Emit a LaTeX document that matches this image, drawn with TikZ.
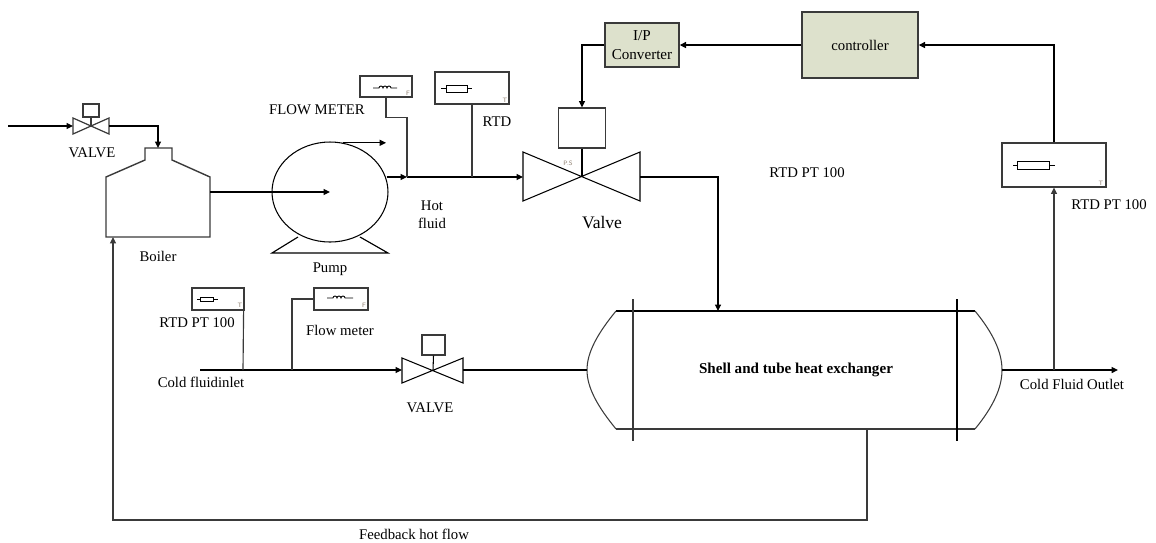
\documentclass[tikz,border=0pt]{standalone}
\usepackage{fontspec}
\setmainfont{Liberation Serif}
\usetikzlibrary{arrows.meta,shapes.geometric}
\definecolor{boxfill}{HTML}{DDE1CC}
\definecolor{ln}{HTML}{3A3A3A}
\definecolor{tinyc}{HTML}{8A7A6A}
\begin{document}
\begin{tikzpicture}[x=0.02cm,y=-0.02cm,
  pipe/.style={line width=0.65pt,draw=black},
  arr/.style={pipe,-{Triangle[length=3.6pt,width=3.4pt]}},
  equip/.style={line width=0.8pt,draw=ln},
  lbl/.style={inner sep=0pt,font=\fontsize{8.4}{10}\selectfont},
  tiny/.style={inner sep=0pt,font=\sffamily\fontsize{3.6}{4}\selectfont,text=tinyc},
  instbox/.style={draw=ln,line width=0.7pt,fill=white,inner sep=0pt},
  ctrlbox/.style={draw=ln,line width=0.8pt,fill=boxfill,inner sep=0pt,align=center,font=\fontsize{8.6}{10.5}\selectfont},
  actbox/.style={draw=ln,line width=0.7pt,inner sep=0pt}]
\useasboundingbox (0,0) rectangle (1156,542);

% ---------- top-left valve ----------
\coordinate (in1) at (8,126);
\coordinate (v1L) at (73,126);
\coordinate (v1R) at (109,126);
\coordinate (v1C) at (91,126);
\draw[equip,line width=0.7pt] (73,118) -- (109,134) -- (109,118) -- (73,134) -- cycle;
\node[actbox,minimum width=0.32cm,minimum height=0.26cm] (act1) at (91,110.5) {};
\draw[equip,line width=0.7pt] (act1.south) -- (v1C);
\node[lbl] (lv1) at (92,153) {VALVE};

% ---------- boiler ----------
\coordinate (boilerTop) at (158,148);
\coordinate (boilerR) at (210,192);
\coordinate (boilerBot) at (113,237);
\draw[equip] (145,160) -- (145,148) -- (172,148) -- (172,160) -- (210,177) -- (210,237) -- (106,237) -- (106,177) -- cycle;
\node[lbl] (lboiler) at (158,256) {Boiler};

\draw[arr] (in1) -- (v1L);
\draw[arr] (v1R) -| (boilerTop);

% ---------- pump ----------
\node[ellipse,draw=black,line width=0.6pt,minimum width=2.32cm,minimum height=2cm,inner sep=0pt] (pump) at (330,192) {};
\draw[pipe] (298,237) -- (272,253) -- (388,253) -- (360,237);
\node[lbl] (lpump) at (330,269) {Pump};
\draw[arr] (boilerR) -- (pump.center);
\coordinate (pt1) at (386,143);
\draw[arr] (pump.75) -- (pump.75 -| pt1);

% ---------- hot fluid line ----------
\coordinate (j1) at (407,177);
\coordinate (j2) at (472,177);
\coordinate (v2L) at (523,177);
\coordinate (v2R) at (640,177);
\coordinate (v2C) at (582,177);
\draw[arr] (pump.east |- j1) ++(-2,0) -- (j1);
\draw[arr] (j1) -- (v2L);
\node[lbl,align=center] (lhot) at (432,214.5) {Hot\\fluid};

% ---------- flow meter (top) ----------
\node[instbox,minimum width=1.04cm,minimum height=0.42cm] (fm1) at (386,86.5) {};
\draw[line width=0.5pt] (373,88) -- (379,88)
   arc[start angle=180,end angle=0,radius=0.04cm]
   arc[start angle=180,end angle=0,radius=0.04cm]
   arc[start angle=180,end angle=0,radius=0.04cm] -- (397,88);
\node[tiny] (fm1F) at (408,93) {F};
\draw[pipe,draw=ln] (fm1.south) -- ++(0,20) -| (j1);
\node[lbl] (lfm1) at (317,110) {FLOW METER};

% ---------- RTD (top) ----------
\node[instbox,minimum width=1.48cm,minimum height=0.64cm] (rtd1) at (472,88) {};
\draw[line width=0.5pt] (441,88) -- (446,88) (467,88) -- (472,88);
\draw[line width=0.5pt] (446,85) rectangle (467,92);
\node[tiny] (rtd1T) at (505,100) {T};
\draw[pipe,draw=ln] (rtd1.south) -- (j2);
\node[lbl] (lrtd1) at (497,122) {RTD};

% ---------- main control valve ----------
\draw[line width=0.6pt] (523,152) -- (640,201) -- (640,152) -- (523,201) -- cycle;
\node[actbox,minimum width=0.94cm,minimum height=0.8cm] (act2) at (582,128) {};
\draw[line width=0.6pt] (act2.south) -- (v2C);
\node[tiny] (ps) at (568,163) {P.S};
\node[lbl,font=\fontsize{10}{12}\selectfont] (lvalve2) at (602,223) {Valve};

% ---------- I/P converter and controller ----------
\node[ctrlbox,minimum width=1.48cm,minimum height=0.88cm] (ip) at (642,45) {I/P\\Converter};
\node[ctrlbox,minimum width=2.32cm,minimum height=1.32cm,font=\fontsize{8.4}{10}\selectfont] (ctrl) at (860,45) {controller};
\draw[arr] (ctrl.west) -- (ip.east);
\draw[arr] (ip.west) -| (act2.north);
\node[lbl] (lrtdmid) at (807,173) {RTD PT 100};

% ---------- heat exchanger ----------
\coordinate (hxTop) at (718,311);
\coordinate (hxL) at (587,370);
\coordinate (hxR) at (1002,370);
\coordinate (hxBot) at (867,429);
\draw[line width=0.6pt] (616,311) -- (975,311);
\draw[line width=0.6pt,draw=ln] (975,311) .. controls (993,333) and (1002,352) .. (1002,370)
      .. controls (1002,388) and (993,407) .. (975,429);
\draw[line width=0.6pt,draw=ln] (975,429) -- (616,429);
\draw[line width=0.6pt,draw=ln] (616,429) .. controls (598,407) and (587,388) .. (587,370)
      .. controls (587,352) and (598,333) .. (616,311);
\draw[equip] (633,299) -- (633,441);
\draw[equip,draw=black] (957,299) -- (957,441);
\node[inner sep=0pt,font=\bfseries\fontsize{8.6}{10}\selectfont] (hx) at (796,370) {Shell and tube heat exchanger};
\draw[arr] (v2R) -| (hxTop);

% ---------- right RTD ----------
\node[instbox,minimum width=2.08cm,minimum height=0.88cm] (rtd3) at (1054,165) {};
\draw[line width=0.5pt] (1013,165) -- (1017,165) (1049,165) -- (1055,165);
\draw[line width=0.5pt] (1017,161) rectangle (1049,169);
\node[tiny] (rtd3T) at (1101,183) {T};
\node[lbl] (lrtd3) at (1109,205) {RTD PT 100};
\draw[arr] (rtd3.north) |- (ctrl.east);
\coordinate (j3) at (1054,370);
\coordinate (out2) at (1118,370);
\draw[arr] (hxR) -- (out2);
\draw[arr,draw=ln] (j3) -- (rtd3.south);
\node[lbl] (lout) at (1072,384) {Cold Fluid Outlet};

% ---------- feedback ----------
\coordinate (fbl) at (113,520);
\draw[arr,draw=ln] (hxBot) |- (fbl) -- (boilerBot);
\node[lbl] (lfb) at (414,534) {Feedback hot flow};

% ---------- cold inlet branch ----------
\coordinate (cin) at (200,370);
\coordinate (v3L) at (402,370);
\coordinate (v3R) at (463,370);
\coordinate (v3C) at (433,370);
\node[instbox,minimum width=1.04cm,minimum height=0.44cm] (rtd2) at (218,299) {};
\draw[line width=0.5pt] (197,299) -- (200,299) (213,299) -- (218,299);
\draw[line width=0.5pt] (200,297) rectangle (213,301);
\node[tiny] (rtd2T) at (240,305) {T};
\node[lbl] (lrtd2) at (197,323) {RTD PT 100};
\node[instbox,minimum width=1.08cm,minimum height=0.44cm] (fm2) at (341,299) {};
\draw[line width=0.5pt] (327,298) -- (333,298)
   arc[start angle=180,end angle=0,radius=0.04cm]
   arc[start angle=180,end angle=0,radius=0.04cm]
   arc[start angle=180,end angle=0,radius=0.04cm] -- (353,298);
\node[tiny] (fm2F) at (364,305) {F};
\node[lbl] (lfm2) at (340,330) {Flow meter};
\draw[arr] (cin) -- (v3L);
\draw[pipe,draw=ln] (rtd2.south east) ++(-1,0) -- (243,370);
\draw[pipe,draw=ln] (fm2.west) -- (292,299) -- (292,370);
\draw[line width=0.6pt] (402,358) -- (463,383) -- (463,358) -- (402,383) -- cycle;
\node[actbox,minimum width=0.46cm,minimum height=0.4cm] (act3) at (433.5,345) {};
\draw[line width=0.6pt] (act3.south) -- (v3C);
\draw[pipe] (v3R) -- (hxL);
\node[lbl] (lcin) at (201,382) {Cold fluidinlet};
\node[lbl] (lv3) at (430,408) {VALVE};
\end{tikzpicture}
\end{document}
